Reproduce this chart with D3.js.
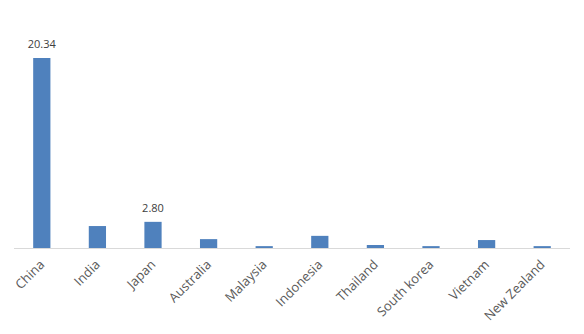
<!DOCTYPE html>
<html>
<head>
<meta charset="utf-8">
<script src="https://cdn.jsdelivr.net/npm/d3@7"></script>
<style>
  body { margin: 0; background: #fff; }
  svg { font-family: "Open Sans", "Noto Sans", sans-serif; }
</style>
</head>
<body>
<svg id="chart" width="584" height="334"></svg>
<script>
const countries = ["China", "India", "Japan", "Australia", "Malaysia", "Indonesia", "Thailand", "South korea", "Vietnam", "New Zealand"];
const values = [20.34, 2.35, 2.80, 0.95, 0.2, 1.3, 0.32, 0.2, 0.85, 0.2];
const labelled = ["China", "Japan"];

const svg = d3.select("#chart");
const margin = { top: 58, right: 14, bottom: 86, left: 14 };
const width = +svg.attr("width") - margin.left - margin.right;
const height = +svg.attr("height") - margin.top - margin.bottom;

const g = svg.append("g")
    .attr("transform", `translate(${margin.left},${margin.top})`);

const x = d3.scaleBand()
    .domain(countries)
    .range([0, width])
    .paddingInner(0.69)
    .paddingOuter(0.345);

const y = d3.scaleLinear()
    .domain([0, 20.34])
    .range([height, 0]);

const data = countries.map((c, i) => ({ name: c, value: values[i] }));

g.selectAll("rect")
    .data(data)
    .enter().append("rect")
    .attr("x", d => x(d.name))
    .attr("y", d => y(d.value))
    .attr("width", x.bandwidth())
    .attr("height", d => height - y(d.value))
    .attr("fill", "#4f81bd");

// baseline
g.append("line")
    .attr("x1", 0).attr("x2", width)
    .attr("y1", height + 0.5).attr("y2", height + 0.5)
    .attr("stroke", "#d9d9d9")
    .attr("stroke-width", 1);

// data labels
g.selectAll(".val")
    .data(data.filter(d => labelled.includes(d.name)))
    .enter().append("text")
    .attr("class", "val")
    .attr("x", d => x(d.name) + x.bandwidth() / 2)
    .attr("y", d => y(d.value) - 10)
    .attr("text-anchor", "middle")
    .attr("font-size", 11)
    .attr("fill", "#404040")
    .text(d => d.value.toFixed(2));

// category labels
g.selectAll(".cat")
    .data(countries)
    .enter().append("text")
    .attr("class", "cat")
    .attr("transform", d => `translate(${x(d) + x.bandwidth() / 2 - 3},${height + 11}) rotate(-45)`)
    .attr("text-anchor", "end")
    .attr("dy", "0.7em")
    .attr("font-size", 13)
    .attr("fill", "#595959")
    .text(d => d);
</script>
</body>
</html>
